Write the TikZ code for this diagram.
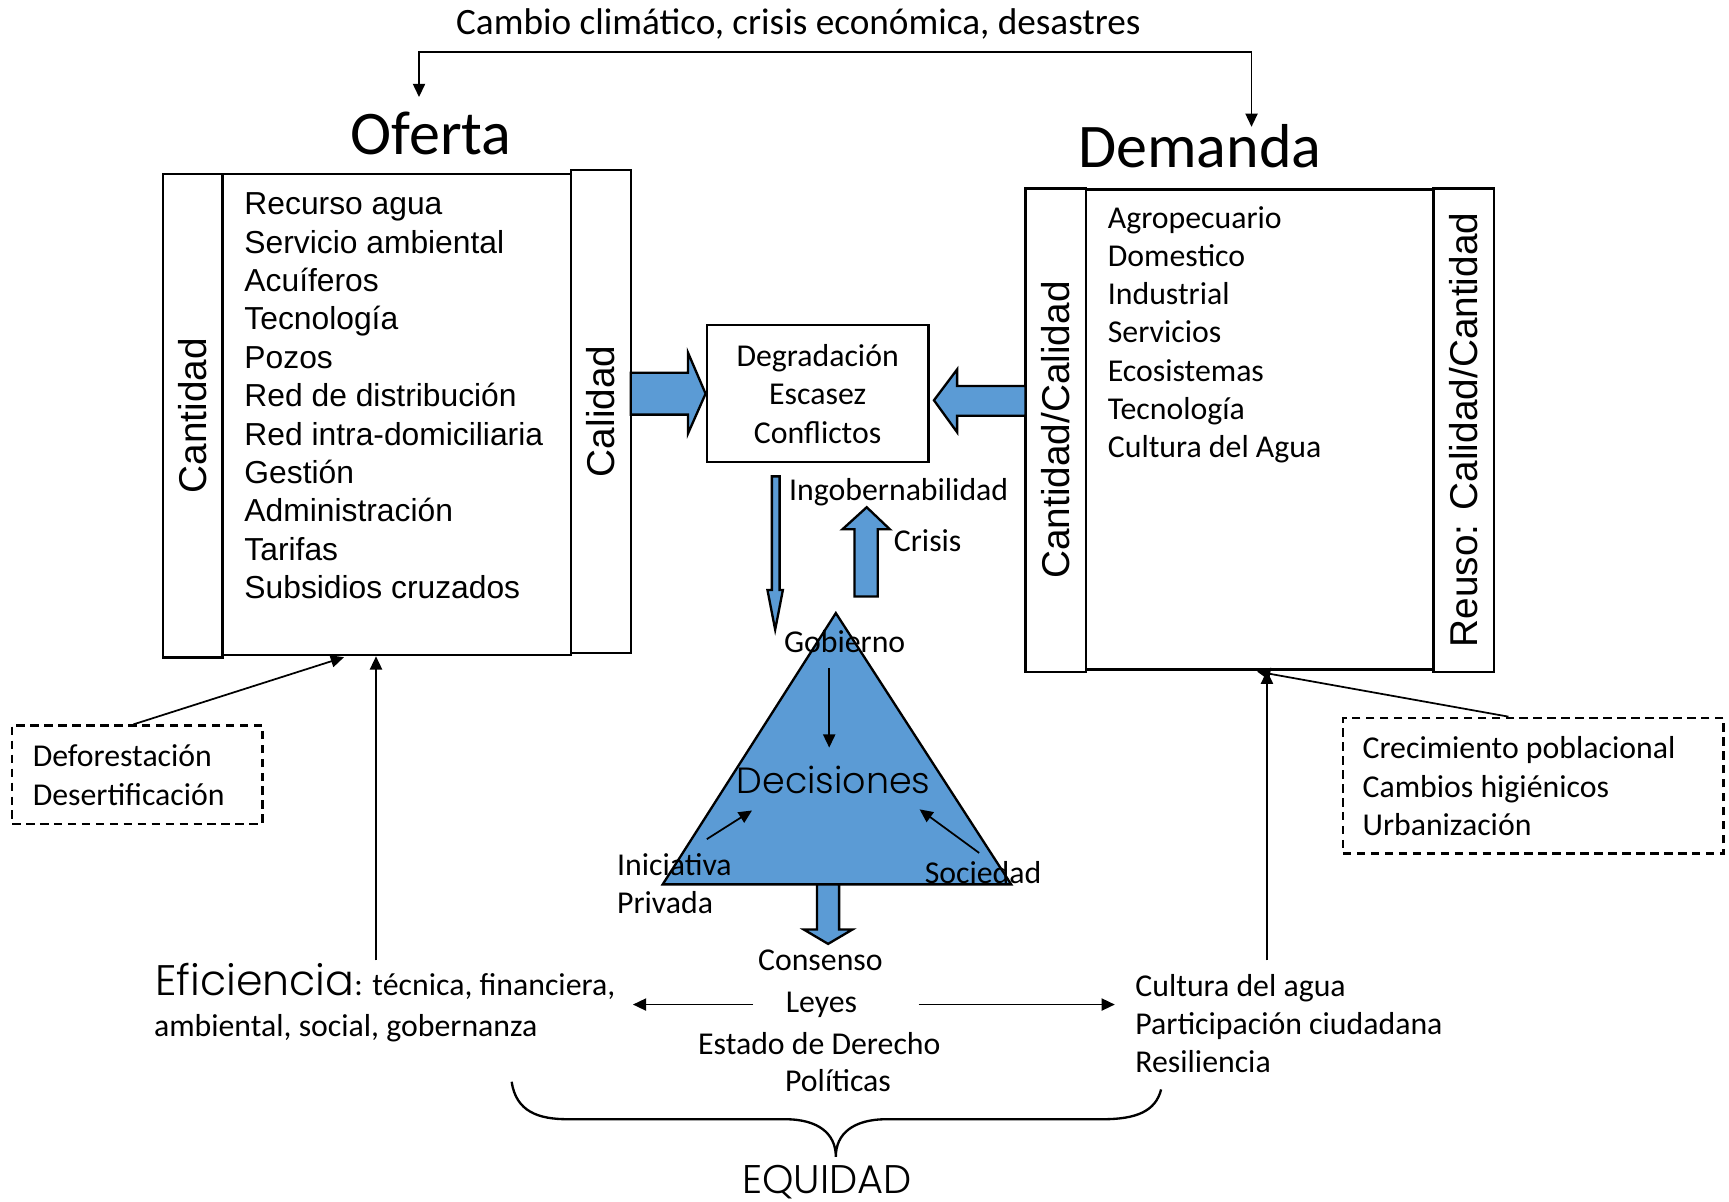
\documentclass[tikz,border=0pt]{standalone}
\usepackage{fontspec}
\setmainfont{Carlito}
\newfontfamily\arialfont{Liberation Sans}
\newfontfamily\gothicfont{Poppins Light}
\usepackage{tikz}
\usetikzlibrary{calc,positioning,arrows.meta}
\definecolor{waterblue}{RGB}{91,155,213}
\tikzset{
	>={Triangle[length=1.2mm,width=1.1mm]},
	every node/.style={inner sep=0pt},
	box/.style={draw, line width=0.6pt},
	dashbox/.style={draw, line width=0.6pt, dash pattern=on 2.2pt off 1.4pt},
	sidetext/.style={rotate=90, font=\arialfont\fontsize{10}{12}\selectfont},
	txt/.style={font=\fontsize{8.2}{9.9}\selectfont},
	listA/.style={align=left, anchor=west, font=\arialfont\fontsize{8.2}{9.9}\selectfont},
	listC/.style={align=left, anchor=west, font=\fontsize{8.2}{9.85}\selectfont},
	bluefill/.style={draw, fill=waterblue, line width=0.6pt, line join=miter},
	conn/.style={line width=0.45pt},
}

\begin{document}
\begin{tikzpicture}[x=0.01cm, y=-0.01cm]
	\useasboundingbox (0,0) rectangle (1568,1090);

	% top line
	\node[font=\fontsize{9.6}{11}\selectfont] (cambio) at (724,22) {Cambio climático, crisis económica, desastres};
	\node[font=\fontsize{16}{19}\selectfont] (oferta) at (391,121) {Oferta};
	\node[font=\fontsize{16}{19}\selectfont] (demanda) at (1088,133) {Demanda};
	\coordinate (ofTop) at (380,88);
	\coordinate (deTop) at (1135,115);
	\draw[conn, <->] (ofTop) |- (757,47) -| (deTop);

	% oferta
	\node[box, minimum width=0.54cm, minimum height=4.38cm] (cantO) at (175,377) {};
	\node[box, minimum width=3.16cm, minimum height=4.36cm] (mainO) at (360,376) {};
	\node[box, minimum width=0.54cm, minimum height=4.38cm] (calO) at (545,373) {};
	\node[sidetext] (cantOtxt) at (cantO) {Cantidad};
	\node[sidetext] (calOtxt) at (calO) {Calidad};
	\node[listA] (ofItems) at (221,359) {Recurso agua\\Servicio ambiental\\Acuíferos\\Tecnología\\Pozos\\Red de distribución\\Red intra-domiciliaria\\Gestión\\Administración\\Tarifas\\Subsidios cruzados};

	% demanda
	\node[box, minimum width=0.55cm, minimum height=4.38cm] (ccD) at (957.5,390) {};
	\node[box, minimum width=3.15cm, minimum height=4.35cm] (mainD) at (1142.5,389.5) {};
	\node[box, minimum width=0.55cm, minimum height=4.38cm] (rcD) at (1327.5,390) {};
	\node[sidetext] (ccDtxt) at (ccD) {Cantidad/Calidad};
	\node[sidetext] (rcDtxt) at (rcD) {Reuso: Calidad/Cantidad};
	\node[listC] (deItems) at (1004,303.5) {Agropecuario\\Domestico\\Industrial\\Servicios\\Ecosistemas\\Tecnología\\Cultura del Agua};

	% centre box and block arrows
	\node[box, minimum width=2.01cm, minimum height=1.24cm, align=center, font=\fontsize{8.2}{9.95}\selectfont] (degr) at (741.5,357) {Degradación\\Escasez\\Conflictos};
	\draw[bluefill] (572,338) -- (624,338) -- (624,320) -- (degr.west) -- (624,393) -- (624,376) -- (572,376) -- cycle;
	\draw[bluefill] (930,350) -- (868,350) -- (868,335) -- (847,363) -- (868,392) -- (868,377) -- (930,377) -- cycle;
	\draw[bluefill] (700,432) -- (707,432) -- (707,535) -- (710,535) -- (703,571) -- (696,535) -- (700,535) -- cycle;
	\draw[bluefill] (775,541) -- (775,480) -- (764,480) -- (786,460) -- (807,480) -- (796,480) -- (796,541) -- cycle;
	\node[txt, anchor=west] (ingob) at (715,446) {Ingobernabilidad};
	\node[txt, anchor=west] (crisis) at (810,490) {Crisis};

	% triangle
	\coordinate (apex) at (758,556);
	\coordinate (baseL) at (601,802);
	\coordinate (baseR) at (917,802);
	\draw[bluefill] (apex) -- (baseR) -- (baseL) -- cycle;
	\draw[bluefill] (741,802) -- (761,802) -- (761,843) -- (773,843) -- (751,856) -- (729,843) -- (741,843) -- cycle;
	\node[txt] (gob) at (766,582) {Gobierno};
	\node[font=\gothicfont\fontsize{9.4}{11}\selectfont] (dec) at (756,707) {Decisiones};
	\node[listC] (inic) at (559,801.5) {Iniciativa\\Privada};
	\node[txt, anchor=west] (soc) at (838,791) {Sociedad};
	\coordinate (inicTail) at (641,761);
	\coordinate (inicHead) at (682,735);
	\coordinate (socTail) at (888,773.5);
	\coordinate (socHead) at (834,734);
	\draw[conn, ->] (gob.south -| 752,0) ++(0,13) -- (752,678);
	\draw[conn, ->] (inicTail) -- (inicHead);
	\draw[conn, ->] (socTail) -- (socHead);

	% bottom texts
	\node[txt] (consenso) at (744,871) {Consenso};
	\node[txt] (leyes) at (745,911) {Leyes};
	\node[txt] (estado) at (743,946) {Estado de Derecho};
	\node[txt] (politicas) at (760,980) {Políticas};
	\node[txt, anchor=base west] (efic1) at (140,903) {{\gothicfont\fontsize{11}{13}\selectfont Eficiencia}: técnica, financiera,};
	\node[txt, anchor=base west] (efic2) at (139,940) {ambiental, social, gobernanza};
	\node[listC] (cultura) at (1029,928) {Cultura del agua\\Participación ciudadana\\Resiliencia};
	\coordinate (leyL) at (683,911);
	\coordinate (leyR) at (833,911);
	\draw[conn, ->] (leyL) -- (574,911);
	\draw[conn, ->] (leyR) -- (1011,911);
	\draw[conn, ->] (341,871) -- (mainO.south -| 341,0);
	\draw[conn, ->] (1149,871) -- (mainD.south -| 1149,0);

	% dashed boxes
	\node[dashbox, minimum width=2.27cm, minimum height=0.89cm] (defBox) at (124.5,702.5) {};
	\node[listC] (defor) at (29,703) {Deforestación\\Desertificación};
	\draw[conn, ->] (defBox.north -| 121,0) -- (312,596);
	\node[dashbox, minimum width=3.45cm, minimum height=1.23cm] (creBox) at (1390.5,712.5) {};
	\node[listC] (crec) at (1235,713) {Crecimiento poblacional\\Cambios higiénicos\\Urbanización};
	\draw[conn, ->] (creBox.north -| 1368,0) -- (1140,609);

	% brace
	\draw[conn, line width=0.6pt] (464,981) .. controls (468,1008) and (488,1015) .. (515,1015) -- (712,1015)
		.. controls (742,1015) and (758,1028) .. (758,1049)
		.. controls (758,1028) and (774,1015) .. (804,1015) -- (1000,1015)
		.. controls (1030,1015) and (1048,1008) .. (1053,988);
	\node[font=\gothicfont\fontsize{10.3}{12}\selectfont] (equidad) at (750,1072) {EQUIDAD};
\end{tikzpicture}
\end{document}
